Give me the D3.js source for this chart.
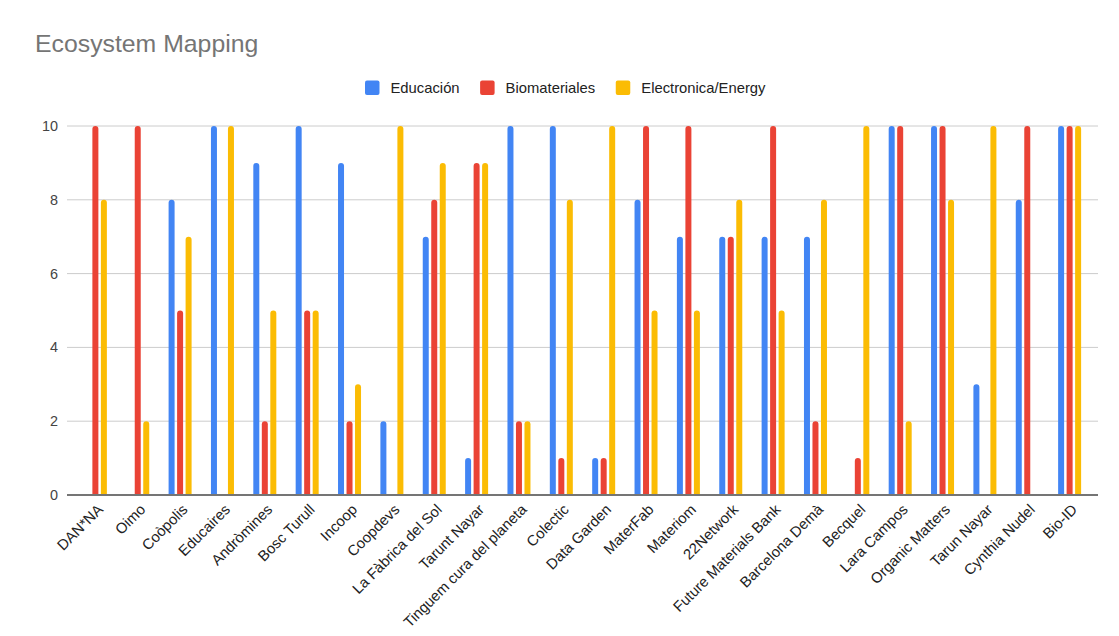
<!DOCTYPE html>
<html>
<head>
<meta charset="utf-8">
<script src="https://cdn.jsdelivr.net/npm/d3@7"></script>
<style>
  html, body { margin: 0; padding: 0; background: #fff; }
  svg { display: block; font-family: "Liberation Sans", Arial, sans-serif; }
</style>
</head>
<body>
<svg id="chart" width="1119" height="636"></svg>
<script>
const categories = ["DAN*NA", "Oimo", "Coòpolis", "Educaires", "Andròmines", "Bosc Turull", "Incoop", "Coopdevs", "La Fàbrica del Sol", "Tarunt Nayar", "Tinguem cura del planeta", "Colectic", "Data Garden", "MaterFab", "Materiom", "22Network", "Future Materials Bank", "Barcelona Demà", "Becquel", "Lara Campos", "Organic Matters", "Tarun Nayar", "Cynthia Nudel", "Bio-ID"];
const seriesNames = ["Educación", "Biomateriales", "Electronica/Energy"];
const educacion      = [0, 0, 8, 10, 9, 10, 9, 2, 7, 1, 10, 10, 1, 8, 7, 7, 7, 7, 0, 10, 10, 3, 8, 10];
const biomateriales  = [10, 10, 5, 0, 2, 5, 2, 0, 8, 9, 2, 1, 1, 10, 10, 7, 10, 2, 1, 10, 10, 0, 10, 10];
const electronica    = [8, 2, 7, 10, 5, 5, 3, 10, 9, 9, 2, 8, 10, 5, 5, 8, 5, 8, 10, 2, 8, 10, 0, 10];
const yTicks = [0, 2, 4, 6, 8, 10];
const colors = ["#4285F4", "#EA4335", "#FBBC04"];
const title = "Ecosystem Mapping";

const series = [educacion, biomateriales, electronica];
const svg = d3.select("#chart");

const plotLeft = 67, plotRight = 1098, plotTop = 126, plotBottom = 495;

const x = d3.scaleBand().domain(categories).range([plotLeft, plotRight]).paddingInner(0).paddingOuter(0.17);
const y = d3.scaleLinear().domain([0, 10]).range([plotBottom, plotTop]);
const sub = d3.scaleBand().domain(seriesNames).range([-12.75, 12.75]);

// title
svg.append("text").attr("x", 35).attr("y", 52)
  .attr("font-size", 24.8).attr("fill", "#757575").text(title);

// legend
const legend = svg.append("g");
let lx = 365;
seriesNames.forEach((name, i) => {
  const g = legend.append("g");
  g.append("rect").attr("x", lx).attr("y", 80.5).attr("width", 14.5).attr("height", 14.5)
    .attr("rx", 2).attr("fill", colors[i]);
  const t = g.append("text").attr("x", lx + 25.5).attr("y", 93)
    .attr("font-size", 14.8).attr("fill", "#222").text(name);
  lx = lx + 25.5 + t.node().getComputedTextLength() + 20.5;
});

// gridlines
svg.append("g").selectAll("line").data(yTicks.filter(d => d !== 0)).join("line")
  .attr("x1", plotLeft).attr("x2", plotRight)
  .attr("y1", d => y(d)).attr("y2", d => y(d))
  .attr("stroke", "#ccc").attr("stroke-width", 1);

// y axis labels
svg.append("g").selectAll("text").data(yTicks).join("text")
  .attr("x", 58).attr("y", d => y(d) + 5)
  .attr("text-anchor", "end").attr("font-size", 14.4).attr("fill", "#444")
  .text(d => d);

// bars with rounded tops
const bw = 6, r = 3;
function barPath(cx, v) {
  const x0 = cx - bw / 2, x1 = cx + bw / 2;
  const y0 = y(0), yt = y(v);
  if (v <= 0) return "";
  return `M${x0},${y0}L${x0},${yt + r}A${r},${r} 0 0 1 ${x1},${yt + r}L${x1},${y0}Z`;
}
const bars = svg.append("g");
series.forEach((vals, si) => {
  bars.append("g").selectAll("path").data(categories.map((c, i) => ({ c, v: vals[i] }))).join("path")
    .attr("d", d => barPath(x(d.c) + x.bandwidth() / 2 + sub(seriesNames[si]) + sub.bandwidth() / 2, d.v))
    .attr("fill", colors[si]);
});

// baseline
svg.append("line").attr("x1", plotLeft).attr("x2", plotRight)
  .attr("y1", y(0)).attr("y2", y(0))
  .attr("stroke", "#757575").attr("stroke-width", 2);

// x labels
svg.append("g").selectAll("text").data(categories).join("text")
  .attr("transform", d => `translate(${x(d) + x.bandwidth() / 2 + 8.5},${510.5}) rotate(-45)`)
  .attr("text-anchor", "end").attr("font-size", 14.8).attr("fill", "#222")
  .text(d => d);
</script>
</body>
</html>
